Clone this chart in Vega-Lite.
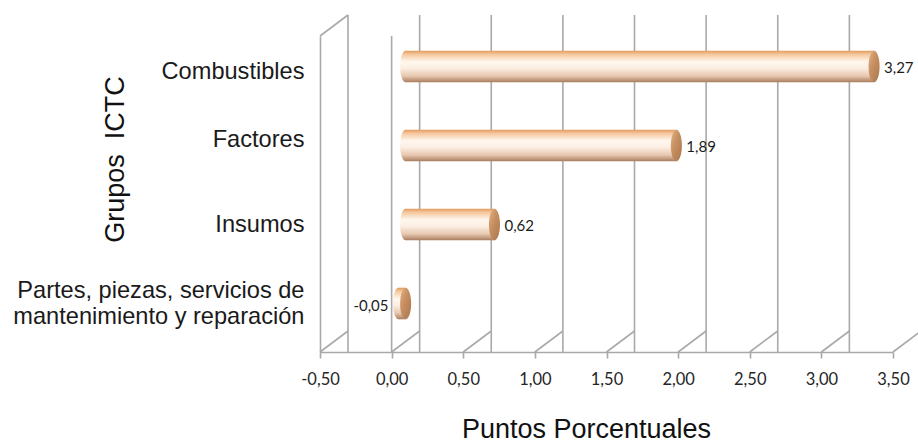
{
  "$schema": "https://vega.github.io/schema/vega-lite/v6.json",
  "width": 573,
  "height": 316,
  "autosize": "none",
  "padding": {"left": 320, "top": 36, "right": 25, "bottom": 90},
  "background": "white",
  "config": {
    "view": {"stroke": null},
    "locale": {"number": {"decimal": ",", "thousands": ".", "grouping": [3], "currency": ["", ""], "minus": "-"}}
  },
  "datasets": {
    "grid": [
      {"value": -0.5}, {"value": 0}, {"value": 0.5}, {"value": 1}, {"value": 1.5},
      {"value": 2}, {"value": 2.5}, {"value": 3}, {"value": 3.5}
    ],
    "bars": [
      {"grupo": "Combustibles", "value": 3.27},
      {"grupo": "Factores", "value": 1.89},
      {"grupo": "Insumos", "value": 0.62},
      {"grupo": "Partes, piezas, servicios de mantenimiento y reparación", "value": -0.05}
    ]
  },
  "encoding": {
    "x": {
      "field": "value",
      "type": "quantitative",
      "scale": {"domain": [-0.5, 3.5], "nice": false, "zero": false},
      "axis": {
        "title": "Puntos Porcentuales",
        "values": [-0.5, 0, 0.5, 1, 1.5, 2, 2.5, 3, 3.5],
        "format": ".2f",
        "grid": false,
        "domainColor": "#a9a9a9",
        "domainWidth": 1.6,
        "tickColor": "#a9a9a9",
        "tickWidth": 1.6,
        "tickSize": 6,
        "labelFont": "Lato",
        "labelFontSize": 16.5,
        "labelColor": "#262626",
        "labelPadding": 13,
        "labelFlush": false,
        "titleFont": "Liberation Sans",
        "titleFontSize": 27,
        "titleFontWeight": "normal",
        "titleColor": "#111111",
        "titleX": 266,
        "titleY": 77,
        "titleAlign": "center",
        "titleBaseline": "middle"
      }
    }
  },
  "layer": [
    {
      "data": {"name": "grid"},
      "layer": [
        {
          "mark": {"type": "rule", "color": "#a9a9a9", "strokeWidth": 1.6, "xOffset": 28, "yOffset": -21, "y2Offset": -21},
          "encoding": {}
        },
        {
          "mark": {"type": "rule", "color": "#a9a9a9", "strokeWidth": 1.6, "x2Offset": 28, "y2Offset": -21},
          "encoding": {
            "x2": {"field": "value"},
            "y": {"value": "height"},
            "y2": {"value": "height"}
          }
        },
        {
          "transform": [{"filter": "datum.value == -0.5"}],
          "mark": {"type": "rule", "color": "#a9a9a9", "strokeWidth": 1.6, "x2Offset": 28, "y2Offset": -21},
          "encoding": {
            "x2": {"field": "value"},
            "y": {"value": 0},
            "y2": {"value": 0}
          }
        },
        {
          "transform": [{"filter": "datum.value == 0"}],
          "mark": {"type": "rule", "color": "#a9a9a9", "strokeWidth": 1.6},
          "encoding": {}
        }
      ]
    },
    {
      "data": {"name": "bars"},
      "encoding": {
        "y": {
          "field": "grupo",
          "type": "nominal",
          "sort": null,
          "scale": {"paddingInner": 0.6, "paddingOuter": 0.3},
          "axis": {
            "title": "Grupos\u00a0\u00a0ICTC",
            "domain": true,
            "domainColor": "#a9a9a9",
            "domainWidth": 1.6,
            "ticks": false,
            "grid": false,
            "labelFont": "Liberation Sans",
            "labelFontSize": 23.6,
            "labelColor": "#1a1a1a",
            "labelPadding": 16,
            "labelOffset": {
              "condition": [
                {"test": "datum.value == 'Combustibles'", "value": -4},
                {"test": "datum.value == 'Factores'", "value": -15},
                {"test": "datum.value == 'Insumos'", "value": -9}
              ],
              "value": -22
            },
            "labelLimit": 400,
            "labelLineHeight": 26,
            "labelExpr": "indexof(datum.label, 'Partes') == 0 ? ['Partes, piezas, servicios de', 'mantenimiento y reparación'] : datum.label",
            "titleFont": "Liberation Sans",
            "titleFontSize": 27,
            "titleFontWeight": "normal",
            "titleColor": "#111111",
            "titleAngle": -90,
            "titleX": -205,
            "titleY": 123,
            "titleAlign": "center",
            "titleBaseline": "middle"
          }
        }
      },
      "layer": [
        {
          "mark": {
            "type": "bar",
            "xOffset": 14, "x2Offset": 14, "yOffset": -9, "y2Offset": -9,
            "color": {
              "gradient": "linear", "x1": 0, "y1": 0, "x2": 0, "y2": 1,
              "stops": [
                {"offset": 0, "color": "#e39a5c"},
                {"offset": 0.12, "color": "#f5c99f"},
                {"offset": 0.35, "color": "#fff7ee"},
                {"offset": 0.55, "color": "#fcefe4"},
                {"offset": 0.8, "color": "#e8c8b0"},
                {"offset": 1, "color": "#a87c5e"}
              ]
            }
          },
          "encoding": {"x2": {"datum": 0}}
        },
        {
          "transform": [{"filter": "datum.value >= 0"}],
          "mark": {
            "type": "point", "filled": true, "opacity": 1, "strokeWidth": 0,
            "shape": "M0,-1A0.35,1,0,1,1,0,1A0.35,1,0,1,1,0,-1Z",
            "size": 999, "xOffset": 14, "yOffset": -9,
            "fill": {
              "gradient": "linear", "x1": 0, "y1": 0, "x2": 0, "y2": 1,
              "stops": [
                {"offset": 0, "color": "#e39a5c"},
                {"offset": 0.12, "color": "#f5c99f"},
                {"offset": 0.35, "color": "#fff7ee"},
                {"offset": 0.55, "color": "#fcefe4"},
                {"offset": 0.8, "color": "#e8c8b0"},
                {"offset": 1, "color": "#a87c5e"}
              ]
            }
          },
          "encoding": {"x": {"datum": 0}}
        },
        {
          "transform": [{"filter": "datum.value < 0"}],
          "mark": {
            "type": "point", "filled": true, "opacity": 1, "strokeWidth": 0,
            "shape": "M0,-1A0.35,1,0,1,1,0,1A0.35,1,0,1,1,0,-1Z",
            "size": 999, "xOffset": 14, "yOffset": -9,
            "fill": {
              "gradient": "linear", "x1": 0, "y1": 0, "x2": 0, "y2": 1,
              "stops": [
                {"offset": 0, "color": "#e39a5c"},
                {"offset": 0.12, "color": "#f5c99f"},
                {"offset": 0.35, "color": "#fff7ee"},
                {"offset": 0.55, "color": "#fcefe4"},
                {"offset": 0.8, "color": "#e8c8b0"},
                {"offset": 1, "color": "#a87c5e"}
              ]
            }
          },
          "encoding": {}
        },
        {
          "transform": [{"filter": "datum.value >= 0"}],
          "mark": {
            "type": "point", "filled": true, "opacity": 1, "strokeWidth": 0,
            "shape": "M0,-1A0.35,1,0,1,1,0,1A0.35,1,0,1,1,0,-1Z",
            "size": 999, "xOffset": 14, "yOffset": -9,
            "fill": {
              "gradient": "linear", "x1": 0, "y1": 0, "x2": 1, "y2": 1,
              "stops": [
                {"offset": 0, "color": "#e2b48a"},
                {"offset": 0.4, "color": "#c99162"},
                {"offset": 1, "color": "#a9764e"}
              ]
            }
          },
          "encoding": {}
        },
        {
          "transform": [{"filter": "datum.value < 0"}],
          "mark": {
            "type": "point", "filled": true, "opacity": 1, "strokeWidth": 0,
            "shape": "M0,-1A0.35,1,0,1,1,0,1A0.35,1,0,1,1,0,-1Z",
            "size": 999, "xOffset": 14, "yOffset": -9,
            "fill": {
              "gradient": "linear", "x1": 0, "y1": 0, "x2": 1, "y2": 1,
              "stops": [
                {"offset": 0, "color": "#e2b48a"},
                {"offset": 0.4, "color": "#c99162"},
                {"offset": 1, "color": "#a9764e"}
              ]
            }
          },
          "encoding": {"x": {"datum": 0}}
        },
        {
          "transform": [{"filter": "datum.value >= 0"}],
          "mark": {"type": "text", "align": "left", "baseline": "middle", "xOffset": 24, "yOffset": -8, "font": "Lato", "fontSize": 15, "color": "#1c1c1c"},
          "encoding": {"text": {"field": "value", "type": "quantitative", "format": ".2f"}}
        },
        {
          "transform": [{"filter": "datum.value < 0"}],
          "mark": {"type": "text", "align": "right", "baseline": "middle", "xOffset": 4, "yOffset": -7, "font": "Lato", "fontSize": 15, "color": "#1c1c1c"},
          "encoding": {"text": {"field": "value", "type": "quantitative", "format": ".2f"}}
        }
      ]
    }
  ]
}
